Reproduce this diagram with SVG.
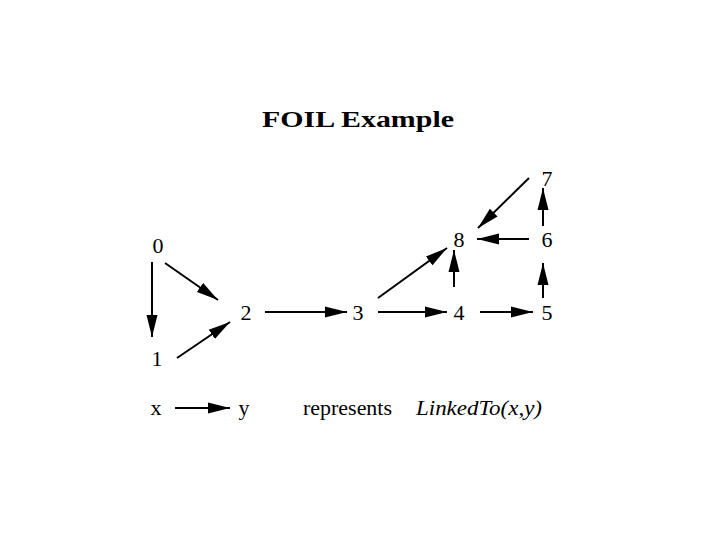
<svg xmlns="http://www.w3.org/2000/svg" width="720" height="540" viewBox="0 0 720 540">
<style>
text{font-family:"Liberation Serif","DejaVu Serif",serif;fill:#000}
.n{font-size:22px;text-anchor:middle}
.t{font-size:23px;font-weight:bold}
.e line{stroke:#000;stroke-width:2}
</style>
<defs>
<marker id="ah" markerUnits="userSpaceOnUse" markerWidth="22" markerHeight="12" refX="20" refY="5" orient="auto" viewBox="0 0 20 10">
<path d="M0,0 L20,5 L0,10 z" fill="#000"/>
</marker>
</defs>
<rect width="720" height="540" fill="#fff"/>
<text class="t" x="262" y="127" textLength="192" lengthAdjust="spacingAndGlyphs">FOIL Example</text>
<g id="n0"><text class="n" x="158" y="253">0</text></g>
<g id="n1"><text class="n" x="157" y="366">1</text></g>
<g id="n2"><text class="n" x="246" y="320">2</text></g>
<g id="n3"><text class="n" x="358" y="320">3</text></g>
<g id="n4"><text class="n" x="459" y="320">4</text></g>
<g id="n5"><text class="n" x="547" y="320">5</text></g>
<g id="n6"><text class="n" x="547" y="247">6</text></g>
<g id="n7"><text class="n" x="547" y="186">7</text></g>
<g id="n8"><text class="n" x="459" y="247">8</text></g>
<g class="e" id="edges">
<line x1="152" y1="262" x2="152" y2="337" marker-end="url(#ah)"/>
<line x1="165" y1="263" x2="218" y2="300" marker-end="url(#ah)"/>
<line x1="177" y1="358" x2="230" y2="322" marker-end="url(#ah)"/>
<line x1="265" y1="312" x2="347" y2="312" marker-end="url(#ah)"/>
<line x1="378" y1="312" x2="447" y2="312" marker-end="url(#ah)"/>
<line x1="480" y1="312" x2="533" y2="312" marker-end="url(#ah)"/>
<line x1="378" y1="298" x2="447" y2="248" marker-end="url(#ah)"/>
<line x1="454" y1="287" x2="454" y2="250" marker-end="url(#ah)"/>
<line x1="543" y1="298" x2="543" y2="263" marker-end="url(#ah)"/>
<line x1="543" y1="226" x2="543" y2="188" marker-end="url(#ah)"/>
<line x1="529" y1="239" x2="477" y2="239" marker-end="url(#ah)"/>
<line x1="529" y1="178" x2="478" y2="228" marker-end="url(#ah)"/>
<line x1="175" y1="408" x2="230" y2="408" marker-end="url(#ah)"/>
</g>
<g id="legend">
<text class="n" x="156" y="415">x</text>
<text class="n" x="244" y="415">y</text>
<text x="303" y="415" font-size="22" textLength="89" lengthAdjust="spacingAndGlyphs">represents</text>
<text x="416" y="415" font-size="22" font-style="italic" textLength="126" lengthAdjust="spacingAndGlyphs">LinkedTo(x,y)</text>
</g>
</svg>
